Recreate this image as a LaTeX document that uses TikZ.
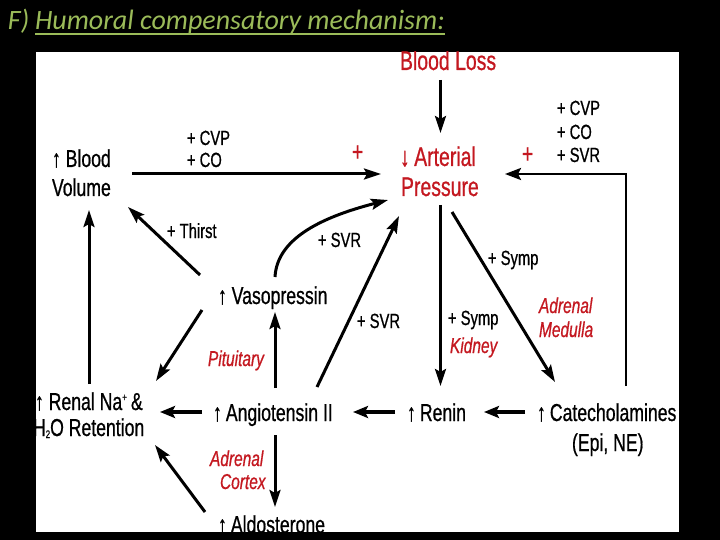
\documentclass[tikz,border=0pt]{standalone}
\usepackage{fontspec}
\setmainfont{Liberation Sans}[FakeStretch=0.72, FakeBold=0.7]
\newfontfamily\titlefont{Carlito}
\usetikzlibrary{arrows.meta}
\definecolor{dred}{RGB}{196,24,32}
\definecolor{tgreen}{RGB}{155,187,89}
\newcommand{\tinyidx}[1]{{\fontsize{11}{11}\selectfont #1}}
\begin{document}
\begin{tikzpicture}[x=1pt,y=-1pt,
  every node/.style={inner sep=0pt, outer sep=0pt},
  box/.style={anchor=base west, font=\fontsize{24.5}{28}\selectfont},
  lab/.style={anchor=base west, font=\fontsize{20.5}{24}\selectfont},
  rlab/.style={anchor=base west, text=dred, font=\fontsize{21.5}{25}\selectfont\itshape},
  big/.style={anchor=base west, text=dred, font=\fontsize{27}{30}\selectfont},
  arr/.style={line width=3pt, -{Stealth[length=17pt,width=11pt,inset=3pt]}},
  harr/.style={line width=3.6pt, -{Stealth[length=15pt,width=12pt,inset=3pt]}},
]
\fill[black] (0,0) rectangle (720,540);
\useasboundingbox (0,0) rectangle (720,540);
\fill[white] (36,52) rectangle (679,532);

% title
\node[anchor=base west, text=tgreen, font=\titlefont\fontsize{28}{32}\selectfont\itshape] (tf) at (8,30) {F)};
\node[anchor=base west, text=tgreen, font=\titlefont\fontsize{28}{32}\selectfont\itshape] (th) at (35,30) {Humoral compensatory mechanism:};
\draw[tgreen, line width=1.4pt] ([yshift=-4pt]th.base west) -- ([yshift=-4pt]th.base east);

\begin{scope}
\clip (36,52) rectangle (679,532);
% main texts
\node[big] (bl) at (400,70) {Blood Loss};
\node[big] (ap) at (400,166) {↓\,Arterial};
\node[big] (ap2) at (401,196) {Pressure};
\node[big] (pl1) at (352,161) {+};
\node[big] (pl2) at (522,163) {+};

\node[box] (bv) at (52,167) {↑ Blood};
\node[box] (bv2) at (52,196) {Volume};
\node[lab] (l1) at (187,145) {+ CVP};
\node[lab] (l2) at (187,167) {+ CO};
\node[lab] (r1) at (557,115) {+ CVP};
\node[lab] (r2) at (557,139) {+ CO};
\node[lab] (r3) at (557,162) {+ SVR};

\node[lab] (thirst) at (167,238) {+ Thirst};
\node[lab] (svr1) at (318,247) {+ SVR};
\node[box] (vp) at (218,304) {↑ Vasopressin};
\node[lab] (svr2) at (357,328) {+ SVR};
\node[lab] (symp1) at (488,265) {+ Symp};
\node[lab] (symp2) at (448,325) {+ Symp};
\node[rlab] (kid) at (450,353) {Kidney};
\node[rlab] (am1) at (539,313) {Adrenal};
\node[rlab] (am2) at (539,337) {Medulla};
\node[rlab] (pit) at (208,366) {Pituitary};

\node[box] (rn) at (35,410) {↑ Renal Na\raisebox{9pt}{\tinyidx{+}}\,\&};
\node[box] (rn2) at (33,436) {H\raisebox{-2pt}{\tinyidx{2}}O Retention};
\node[box] (ang) at (213,421) {↑\,Angiotensin II};
\node[box] (ren) at (407,421) {↑\,Renin};
\node[box] (cat) at (537,421) {↑\,Catecholamines};
\node[box] (cat2) at (572,451) {(Epi, NE)};
\node[rlab] (ac1) at (210,466) {Adrenal};
\node[rlab] (ac2) at (220,489) {Cortex};
\node[box] (ald) at (218,533) {↑\,Aldosterone};

% connector end points
\coordinate (blS) at (440.5,80);
\coordinate (apN) at (440.5,133);
\coordinate (bvE) at (132,174);
\coordinate (apW) at (381,174);
\coordinate (catN) at (626,386);
\coordinate (apE) at (505,174);
\coordinate (apS) at (440.5,205);
\coordinate (renN) at (440.5,386);
\coordinate (apSE) at (452,212);
\coordinate (catNW) at (555,382);
\coordinate (catW) at (525,412);
\coordinate (renE) at (484,412);
\coordinate (renW) at (395,412);
\coordinate (angE) at (353,412);
\coordinate (angW) at (202,412);
\coordinate (rnE) at (160,412);
\coordinate (angN) at (275,388);
\coordinate (vpS) at (275,312);
\coordinate (angNE) at (317,387);
\coordinate (apSW) at (399,216);
\coordinate (vpN) at (275,277);
\coordinate (apSW2) at (388,200);
\coordinate (vpNW) at (200,275);
\coordinate (bvSE) at (128,207);
\coordinate (vpSW) at (202,310);
\coordinate (rnNE) at (156,381);
\coordinate (rnN) at (89,384);
\coordinate (bvS) at (89,210);
\coordinate (angS) at (275,435);
\coordinate (aldN) at (275,507);
\coordinate (aldNW) at (205,512);
\coordinate (rnSE) at (155,445);

\draw[arr] (blS) -- (apN);
\draw[arr] (bvE) -- (apW);
\draw[line width=2.6pt, -{Stealth[length=16pt,width=12pt,inset=3pt]}] (catN) -- (catN |- apE) -- (apE);
\draw[arr] (apS) -- (renN);
\draw[arr] (apSE) -- (catNW);
\draw[harr] (catW) -- (renE);
\draw[harr] (renW) -- (angE);
\draw[harr] (angW) -- (rnE);
\draw[arr] (angN) -- (vpS);
\draw[arr] (angNE) -- (apSW);
\draw[arr] (vpN) .. controls (277,240) and (318,218) .. (apSW2);
\draw[arr] (vpNW) -- (bvSE);
\draw[arr] (vpSW) -- (rnNE);
\draw[arr] (rnN) -- (bvS);
\draw[arr] (angS) -- (aldN);
\draw[arr] (aldNW) -- (rnSE);
\end{scope}
\end{tikzpicture}
\end{document}
